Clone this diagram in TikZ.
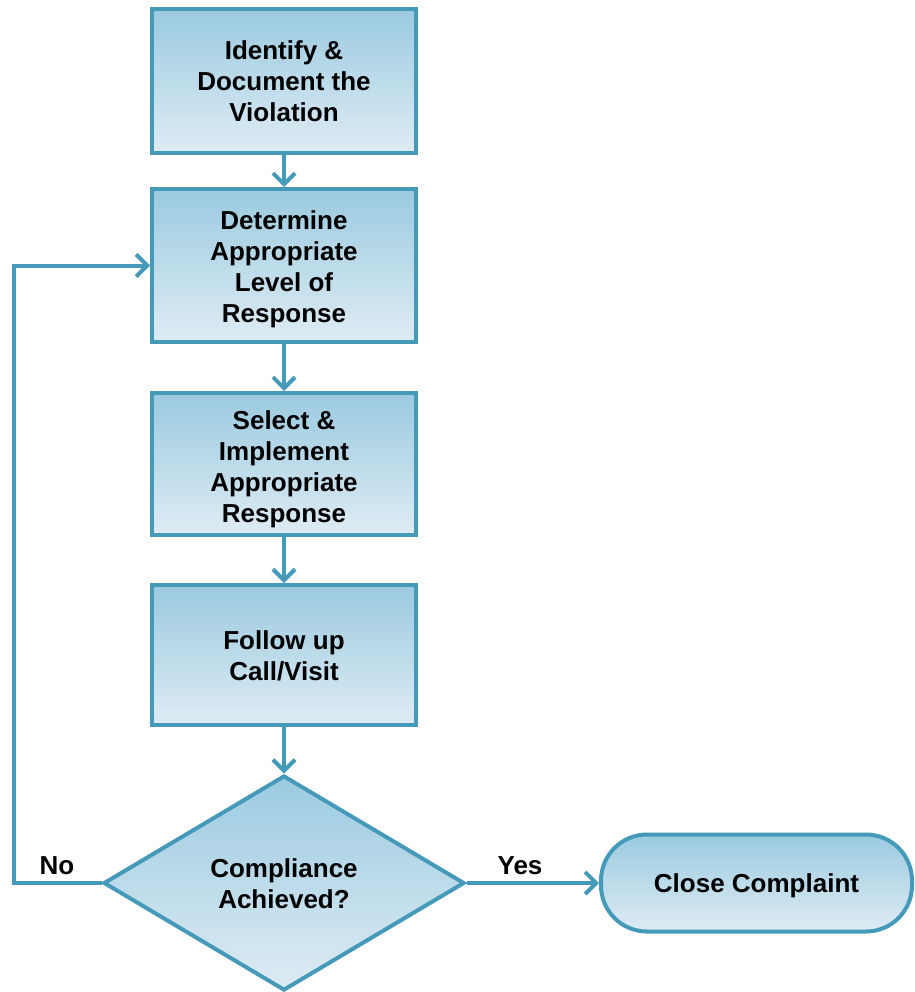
\documentclass[tikz,border=0pt]{standalone}
\usepackage{fontspec}
\setmainfont{Liberation Sans}
\usetikzlibrary{shapes.geometric,arrows.meta}
\definecolor{edgeblue}{RGB}{70,154,185}
\definecolor{filltop}{RGB}{155,202,224}
\definecolor{fillbot}{RGB}{222,236,244}
\tikzset{
  lbl/.style={font=\fontsize{26}{31}\selectfont\bfseries, text=black, align=center},
  stepbox/.style={lbl, draw=edgeblue, line width=4pt, top color=filltop, bottom color=fillbot,
    minimum width=264pt, inner sep=0pt},
  decide/.style={lbl, diamond, draw=edgeblue, line width=4pt, top color=filltop, bottom color=fillbot,
    minimum width=361pt, minimum height=215pt, inner sep=0pt},
  term/.style={lbl, draw=edgeblue, line width=4pt, top color=filltop, bottom color=fillbot,
    rounded corners=46pt, minimum width=311pt, minimum height=97pt, inner sep=0pt},
  arr/.style={draw=edgeblue, line width=4pt, -{Straight Barb[length=11pt,width=22pt]}},
  side/.style={font=\fontsize{26}{31}\selectfont\bfseries, text=black},
  inner/.style={lbl, inner sep=0pt}
}
\begin{document}
\begin{tikzpicture}[x=1pt,y=-1pt]
\useasboundingbox (0,0) rectangle (914,992);
\node[stepbox, minimum height=144pt] (b1) at (284,81) {Identify \&\\Document the\\Violation};
\node[stepbox, minimum height=153pt,
  label={[inner, yshift=-4pt]center:{Determine\\Appropriate\\Level of\\Response}}] (b2) at (284,265.5) {};
\node[stepbox, minimum height=142pt,
  label={[inner, yshift=-5pt]center:{Select \&\\Implement\\Appropriate\\Response}}] (b3) at (284,464) {};
\node[stepbox, minimum height=140pt,
  label={[inner, yshift=-1pt]center:{Follow up\\Call/Visit}}] (b4) at (284,655) {};
\node[decide, label={[inner, yshift=-1pt]center:{Compliance\\Achieved?}}] (d) at (284,883) {};
\node[term, label={[inner, yshift=-3pt]center:{Close Complaint}}] (t) at (756.5,883) {};
\coordinate (loop) at (14,883);
\draw[arr] (b1.south) -- (b2.north);
\draw[arr] (b2.south) -- (b3.north);
\draw[arr] (b3.south) -- (b4.north);
\draw[arr] (b4.south) -- (d.north);
\draw[arr] (d.east) -- (t.west);
\draw[arr] (d.west) -- (loop) |- (b2.west);
\node[side] (no) at (57,866) {No};
\node[side] (yes) at (520,866) {Yes};
\end{tikzpicture}
\end{document}
